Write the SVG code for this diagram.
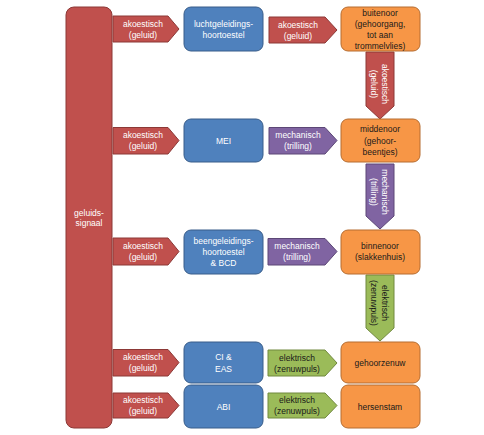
<svg xmlns="http://www.w3.org/2000/svg" width="484" height="435" viewBox="0 0 484 435">
<style>
text{font-family:"Liberation Sans",Arial,sans-serif;font-size:8.5px;text-anchor:middle;dominant-baseline:central}
.w{fill:#fff}.d{fill:#1a1a1a}
.red{fill:#C0504D;stroke:#8C3836;stroke-width:1}
.blue{fill:#4F81BD;stroke:#385D8A;stroke-width:1}
.org{fill:#F79646;stroke:#B66D31;stroke-width:1}
.pur{fill:#8064A2;stroke:#5C4776;stroke-width:1}
.grn{fill:#9BBB59;stroke:#71893F;stroke-width:1}
</style>
<rect width="484" height="435" fill="#fff"/>
<g id="bar"><rect class="red" x="66" y="7" width="46" height="421" rx="8"/>
<text class="w" x="89" y="213">geluids-</text><text class="w" x="89" y="223">signaal</text></g>
<g id="connectors">
<g><polygon class="red" points="113,16 168,16 179,29 168,42 113,42"/><text class="w" x="143" y="24">akoestisch</text><text class="w" x="143" y="35">(geluid)</text></g>
<g><polygon class="red" points="113,127.5 168,127.5 179,140.5 168,154 113,154"/><text class="w" x="143" y="135">akoestisch</text><text class="w" x="143" y="146">(geluid)</text></g>
<g><polygon class="red" points="113,238 168,238 179,251.5 168,265 113,265"/><text class="w" x="143" y="246">akoestisch</text><text class="w" x="143" y="257">(geluid)</text></g>
<g><polygon class="red" points="113,349.5 168,349.5 179,362.5 168,376 113,376"/><text class="w" x="143" y="357">akoestisch</text><text class="w" x="143" y="368">(geluid)</text></g>
<g><polygon class="red" points="113,393 168,393 179,405.5 168,418 113,418"/><text class="w" x="143" y="400">akoestisch</text><text class="w" x="143" y="411">(geluid)</text></g>
<g><polygon class="red" points="269,17 325,17 337,30 325,43 269,43"/><text class="w" x="298" y="24.5">akoestisch</text><text class="w" x="298" y="35.5">(geluid)</text></g>
<g><polygon class="pur" points="269,127.5 325,127.5 337,140.5 325,154 269,154"/><text class="w" x="298" y="135">mechanisch</text><text class="w" x="298" y="146">(trilling)</text></g>
<g><polygon class="pur" points="268,238.5 325,238.5 337,251.5 325,265 268,265"/><text class="w" x="297" y="246">mechanisch</text><text class="w" x="297" y="257">(trilling)</text></g>
<g><polygon class="grn" points="268,350 325,350 337,363 325,376 268,376"/><text class="d" x="297" y="357.5">elektrisch</text><text class="d" x="297" y="368.5">(zenuwpuls)</text></g>
<g><polygon class="grn" points="268,393 325,393 337,405.5 325,418 268,418"/><text class="d" x="297" y="400">elektrisch</text><text class="d" x="297" y="411">(zenuwpuls)</text></g>
<g><polygon class="red" points="366,52 394,52 394,106 380,119 366,106"/><g transform="rotate(90 379 84)"><text class="w" x="379" y="78.5">akoestisch</text><text class="w" x="379" y="89.5">(geluid)</text></g></g>
<g><polygon class="pur" points="366,164 394,164 394,216 380,229 366,216"/><g transform="rotate(90 379 192)"><text class="w" x="379" y="186.5">mechanisch</text><text class="w" x="379" y="197.5">(trilling)</text></g></g>
<g><polygon class="grn" points="366,275 394,275 394,328 380,341 366,328"/><g transform="rotate(90 379 303)"><text class="d" x="379" y="297.5">elektrisch</text><text class="d" x="379" y="308.5">(zenuwpuls)</text></g></g>
</g>
<g id="n-lucht"><rect class="blue" x="184" y="7" width="79" height="44" rx="7"/><text class="w" x="223.5" y="24">luchtgeleidings-</text><text class="w" x="223.5" y="35">hoortoestel</text></g>
<g id="n-mei"><rect class="blue" x="184" y="119" width="79" height="43" rx="7"/><text class="w" x="223.5" y="140.5">MEI</text></g>
<g id="n-been"><rect class="blue" x="184" y="230" width="79" height="44" rx="7"/><text class="w" x="223.5" y="241">beengeleidings-</text><text class="w" x="223.5" y="252">hoortoestel</text><text class="w" x="223.5" y="263">&amp; BCD</text></g>
<g id="n-ci"><rect class="blue" x="184" y="342" width="79" height="41" rx="7"/><text class="w" x="223.5" y="357">CI &amp;</text><text class="w" x="223.5" y="369">EAS</text></g>
<g id="n-abi"><rect class="blue" x="184" y="385" width="79" height="43" rx="7"/><text class="w" x="223.5" y="406.5">ABI</text></g>
<g id="n-buiten"><rect class="org" x="341" y="7" width="79" height="44" rx="7"/><text class="d" x="380" y="13">buitenoor</text><text class="d" x="380" y="24">(gehoorgang,</text><text class="d" x="380" y="35">tot aan</text><text class="d" x="380" y="46">trommelvlies)</text></g>
<g id="n-midden"><rect class="org" x="341" y="119" width="79" height="43" rx="7"/><text class="d" x="380" y="129">middenoor</text><text class="d" x="380" y="140.5">(gehoor-</text><text class="d" x="380" y="152">beentjes)</text></g>
<g id="n-binnen"><rect class="org" x="341" y="230" width="79" height="44" rx="7"/><text class="d" x="380" y="246">binnenoor</text><text class="d" x="380" y="257">(slakkenhuis)</text></g>
<g id="n-zenuw"><rect class="org" x="341" y="342" width="79" height="41" rx="7"/><text class="d" x="380" y="362.5">gehoorzenuw</text></g>
<g id="n-stam"><rect class="org" x="341" y="385" width="79" height="43" rx="7"/><text class="d" x="380" y="406.5">hersenstam</text></g>
</svg>
